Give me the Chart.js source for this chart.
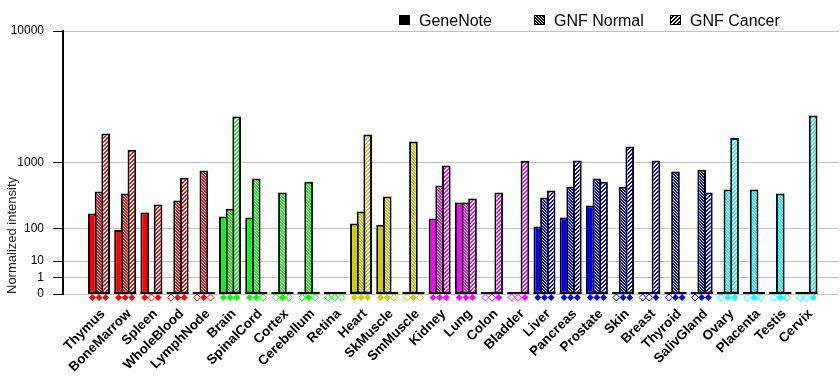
<!DOCTYPE html>
<html>
<head>
<meta charset="utf-8">
<script src="https://cdn.jsdelivr.net/npm/chart.js@4"></script>
<style>
  html, body { margin: 0; padding: 0; background: #fff; }
</style>
</head>
<body>
<canvas id="barChart" width="840" height="385"></canvas>
<script>
const tissues = ["Thymus", "BoneMarrow", "Spleen", "WholeBlood", "LymphNode",
  "Brain", "SpinalCord", "Cortex", "Cerebellum", "Retina",
  "Heart", "SkMuscle", "SmMuscle",
  "Kidney", "Lung", "Colon", "Bladder",
  "Liver", "Pancreas", "Prostate", "Skin", "Breast", "Thyroid", "SalivGland",
  "Ovary", "Placenta", "Testis", "Cervix"];

// null = not called present (hollow marker, no bar)
const geneNote = [195, 91, 204, null, null, 173, 166, null, null, null, 126, 119, null,
  159, 300, null, null, 109, 166, 269, null, null, null, null, null, null, null, null];
const gnfNormal = [437, 410, null, 322, 812, 237, 650, 423, 591, null, 213, 371, 1636,
  528, 300, null, null, 358, 507, 650, 507, null, 791, 827, 466, 466, 410, null];
const gnfCancer = [1938, 1358, 279, 663, null, 2707, null, null, null, null, 1898, null, null,
  926, 346, 423, 1043, 452, 1050, 591, 1464, 1050, 0, 423, 1760, null, null, 2760];

const seriesNames = ["GeneNote", "GNF Normal", "GNF Cancer"];
const yTicks = [0, 1, 10, 100, 1000, 10000];

const groupColors = ["#ff0000", "#00ff00", "#cccc00", "#ff00ff", "#0000ff", "#00ffff"];
const groupSizes = [5, 5, 3, 4, 7, 4];

const series = [geneNote, gnfNormal, gnfCancer];
const tissueColors = [];
groupSizes.forEach((n, g) => { for (let k = 0; k < n; k++) tissueColors.push(groupColors[g]); });

// the axis doubles every decade: position ~ v^log10(2)
const pw = (v) => Math.pow(v, Math.log10(2));
const fontFamily = 'Arial, "Liberation Sans", sans-serif';

// hatch fills
const makePattern = (color, kind) => {
  const c = document.createElement("canvas");
  const size = kind === "normal" ? 3 : 4;
  c.width = size;
  c.height = size;
  const g = c.getContext("2d");
  g.fillStyle = kind === "normal" ? color : "#fff";
  g.fillRect(0, 0, size, size);
  g.fillStyle = kind === "normal" ? "#fff" : color;
  for (let y = 0; y < size; y++) {
    for (let x = 0; x < size; x++) {
      if (kind === "normal" && x === y) g.fillRect(x, y, 1, 1);
      if (kind === "cancer" && (x + y) % 4 < 2) g.fillRect(x, y, 1, 1);
    }
  }
  return g.createPattern(c, "repeat");
};

const fills = [
  tissueColors,
  tissueColors.map((c) => makePattern(c, "normal")),
  tissueColors.map((c) => makePattern(c, "cancer")),
];
const legendFills = ["#000", makePattern("#000", "normal"), makePattern("#000", "cancer")];

const drawDiamond = (ctx, x, y, r, color, filled) => {
  ctx.beginPath();
  ctx.moveTo(x, y - r);
  ctx.lineTo(x + r, y);
  ctx.lineTo(x, y + r);
  ctx.lineTo(x - r, y);
  ctx.closePath();
  if (filled) {
    ctx.fillStyle = color;
    ctx.fill();
  } else {
    ctx.fillStyle = "#fff";
    ctx.fill();
    ctx.strokeStyle = color;
    ctx.lineWidth = 1;
    ctx.stroke();
  }
};

// group baselines and present/absent markers under the bars
const decorations = {
  id: "decorations",
  afterDatasetsDraw(chart) {
    const { ctx, chartArea } = chart;
    const metas = series.map((_, d) => chart.getDatasetMeta(d));
    const base = chartArea.bottom;
    ctx.save();
    tissues.forEach((t, i) => {
      const first = metas[0].data[i];
      const last = metas[2].data[i];
      const x0 = first.x - first.width / 2;
      const x1 = last.x + last.width / 2;
      ctx.fillStyle = "#000";
      ctx.fillRect(x0, base - 2, x1 - x0, 2);
      series.forEach((vals, d) => {
        const el = metas[d].data[i];
        drawDiamond(ctx, el.x, base + 3.5, 3.5, tissueColors[i], vals[i] !== null);
      });
    });
    ctx.restore();
  },
};

// legend across the top
const topLegend = {
  id: "topLegend",
  afterDraw(chart) {
    const { ctx } = chart;
    const xs = [399, 534, 670];
    ctx.save();
    seriesNames.forEach((name, d) => {
      ctx.fillStyle = legendFills[d];
      ctx.fillRect(xs[d], 15, 11, 10);
      ctx.strokeStyle = "#000";
      ctx.lineWidth = 1;
      ctx.strokeRect(xs[d] + 0.5, 15.5, 10, 9);
      ctx.fillStyle = "#000";
      ctx.font = "16px " + fontFamily;
      ctx.textBaseline = "alphabetic";
      ctx.fillText(name, xs[d] + 20, 26);
    });
    ctx.restore();
  },
};

const ctx = document.getElementById("barChart").getContext("2d");
new Chart(ctx, {
  type: "bar",
  data: {
    datasets: series.map((vals, d) => ({
      label: seriesNames[d],
      data: vals.map((v, i) => ({ x: i, y: v === null ? null : pw(v) })),
      backgroundColor: (c) => fills[d][c.dataIndex],
      borderColor: "#000",
      borderWidth: 2,
      borderSkipped: false,
      barPercentage: 1.3,
      categoryPercentage: 0.763,
    })),
  },
  options: {
    responsive: false,
    animation: false,
    devicePixelRatio: 1,
    layout: { padding: { top: 31, right: 1, left: 0, bottom: 0 } },
    plugins: {
      legend: { display: false },
      tooltip: { enabled: false },
    },
    scales: {
      x: {
        type: "linear",
        offset: false,
        min: -1.374,
        max: 28.24,
        grid: { display: false, offset: false },
        border: { display: false },
        afterBuildTicks: (s) => { s.ticks = tissues.map((_, i) => ({ value: i })); },
        afterFit: (s) => { s.height = 91; },
        ticks: {
          autoSkip: false,
          minRotation: 45,
          maxRotation: 45,
          padding: 4,
          labelOffset: 4,
          color: "#000",
          font: { family: fontFamily, size: 13.5, weight: "bold" },
          callback: (v, i) => tissues[i],
        },
      },
      y: {
        type: "linear",
        min: 0,
        max: pw(10000),
        afterBuildTicks: (s) => { s.ticks = yTicks.map((v) => ({ value: pw(v) })); },
        afterFit: (s) => { s.width = 63; },
        grid: { color: "#c0c0c0", lineWidth: 1, tickColor: "#000", tickLength: 10 },
        border: { color: "#000", width: 2 },
        ticks: {
          padding: 9,
          color: "#000",
          font: { family: fontFamily, size: 12 },
          callback: (v, i) => String(yTicks[i]),
        },
        title: {
          display: true,
          text: "Normalized intensity",
          align: "start",
          color: "#222",
          padding: { top: 5, bottom: 0 },
          font: { family: fontFamily, size: 13 },
        },
      },
    },
  },
  plugins: [decorations, topLegend],
});
</script>
</body>
</html>
